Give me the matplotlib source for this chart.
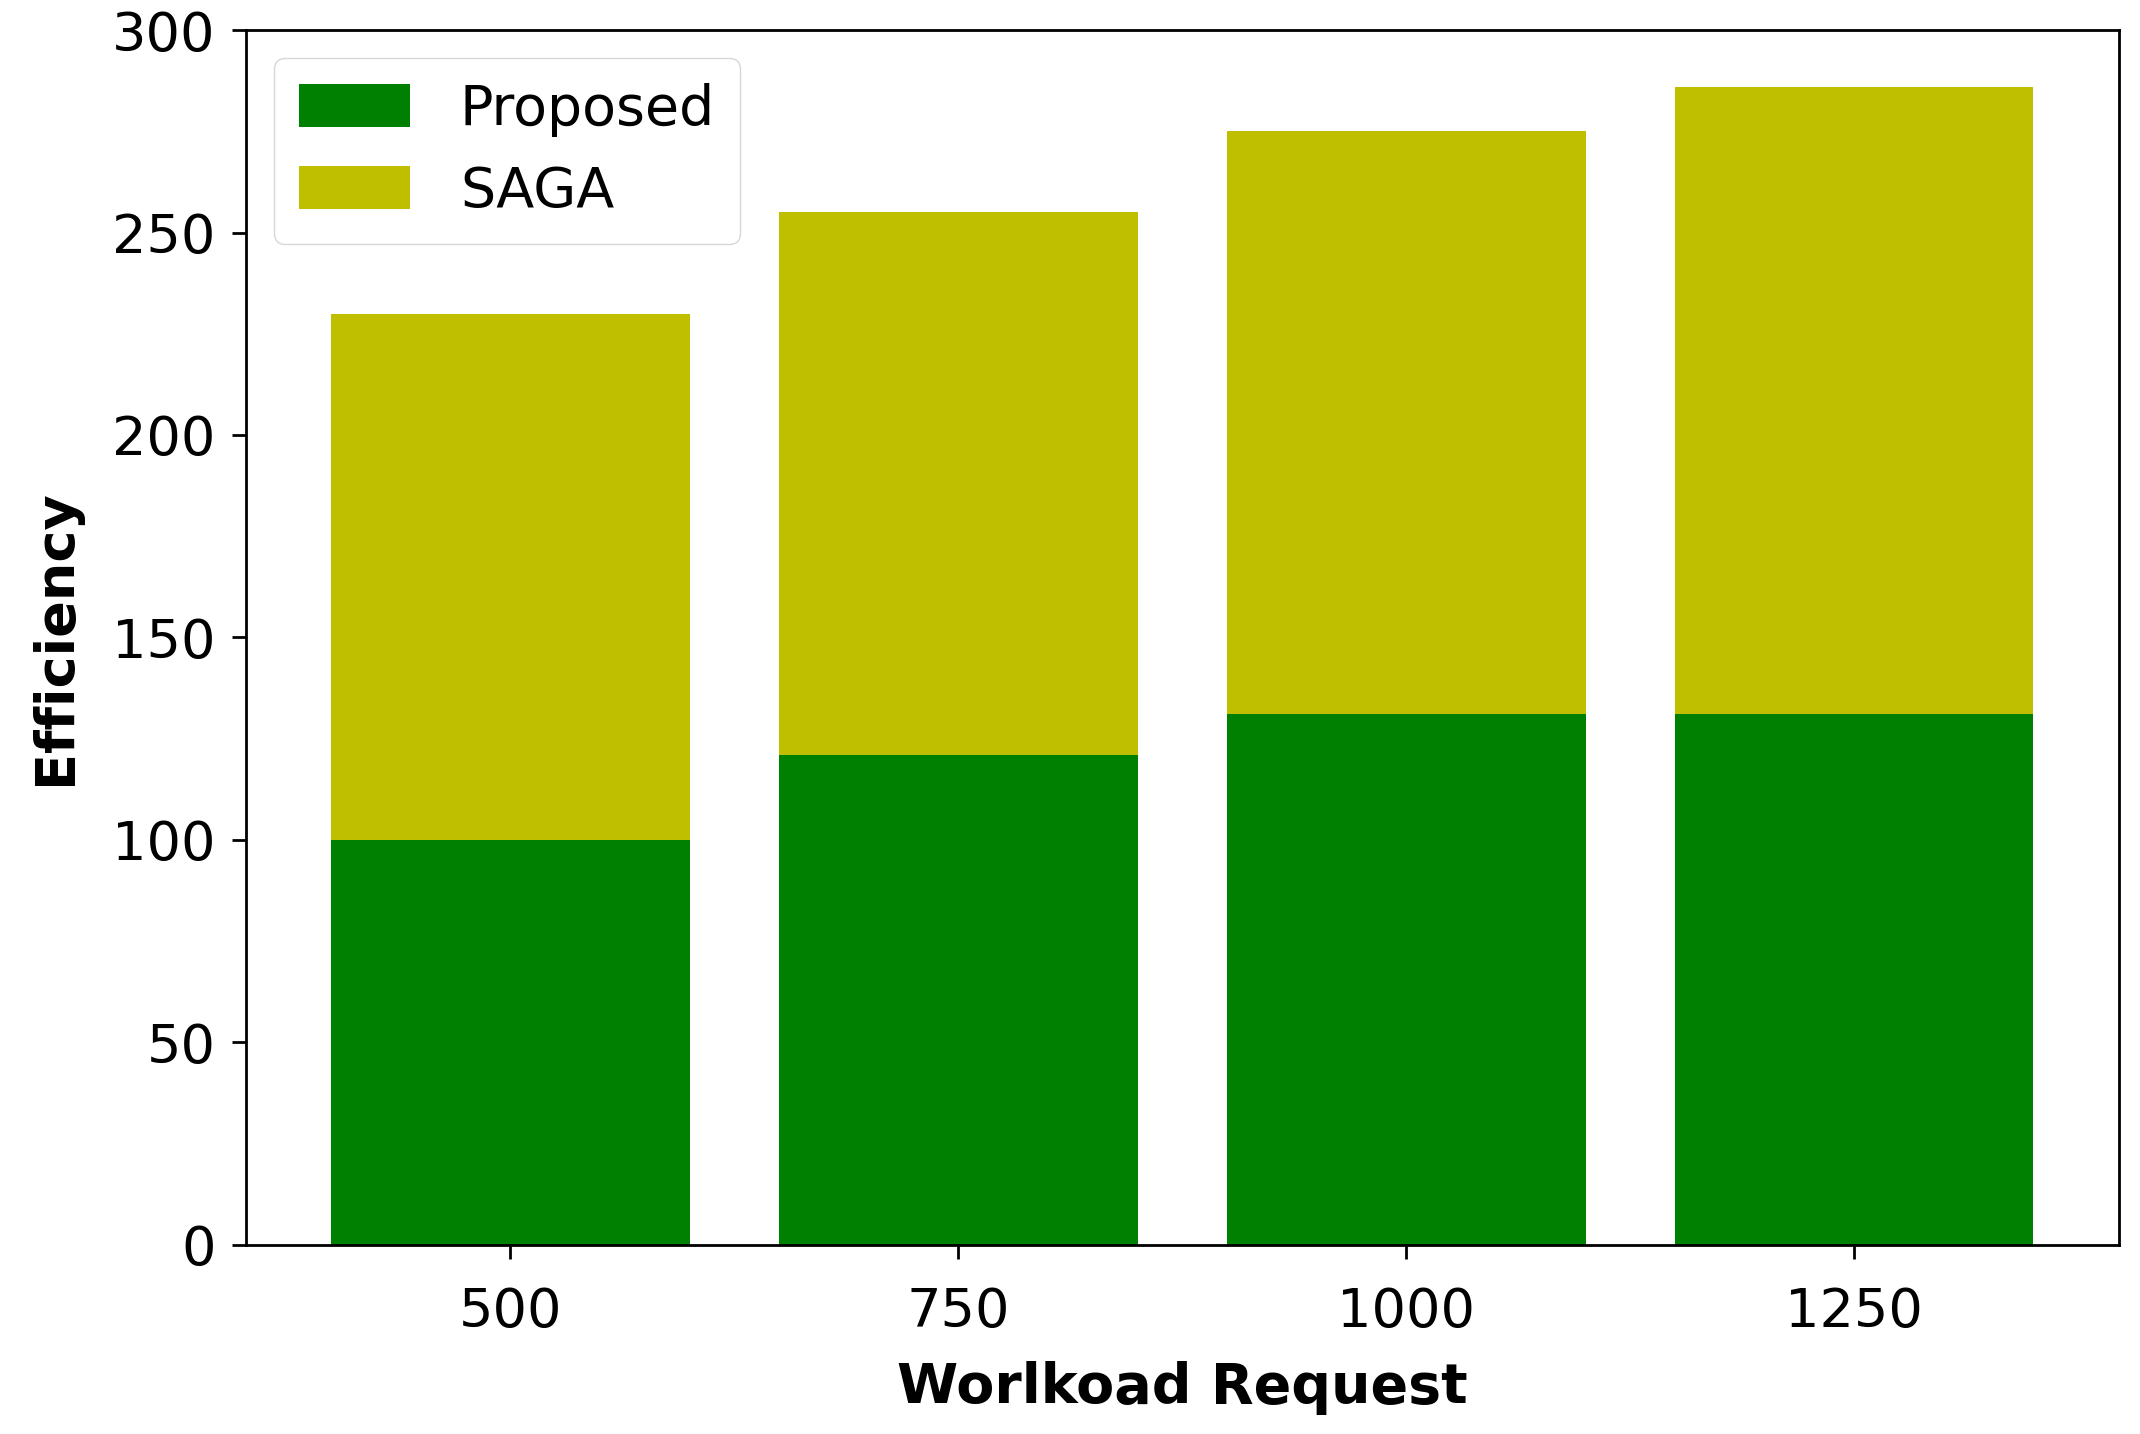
import numpy as np
import matplotlib.pyplot as plt

# Дані
workload = ['500', '750', '1000', '1250']
proposed = [100, 121, 131, 131]
saga = [130, 134, 144, 155]

fig = plt.figure(figsize=(21.4, 14.34), dpi=100)
ax = fig.add_axes([0.115, 0.132, 0.875, 0.847])

x = np.arange(len(workload))
ax.bar(x, proposed, width=0.8, color='g', label='Proposed')
ax.bar(x, saga, width=0.8, bottom=proposed, color='y', label='SAGA')

ax.set_xticks(x)
ax.set_xticklabels(workload)
ax.set_ylim(0, 300)
ax.set_yticks(range(0, 301, 50))
ax.tick_params(labelsize=39, length=10, width=2, pad=12)
ax.tick_params(axis='x', pad=20)
for s in ax.spines.values():
    s.set_linewidth(2)

ax.set_xlabel('Worlkoad Request', fontsize=40, fontweight='bold', labelpad=16)
ax.set_ylabel('Efficiency', fontsize=39, fontweight='bold', labelpad=22)

ax.legend(loc='upper left', fontsize=40, handlelength=2.0, handleheight=0.8,
          borderpad=0.45, labelspacing=0.5, handletextpad=0.9)

fig.savefig('out.png', dpi=100)
